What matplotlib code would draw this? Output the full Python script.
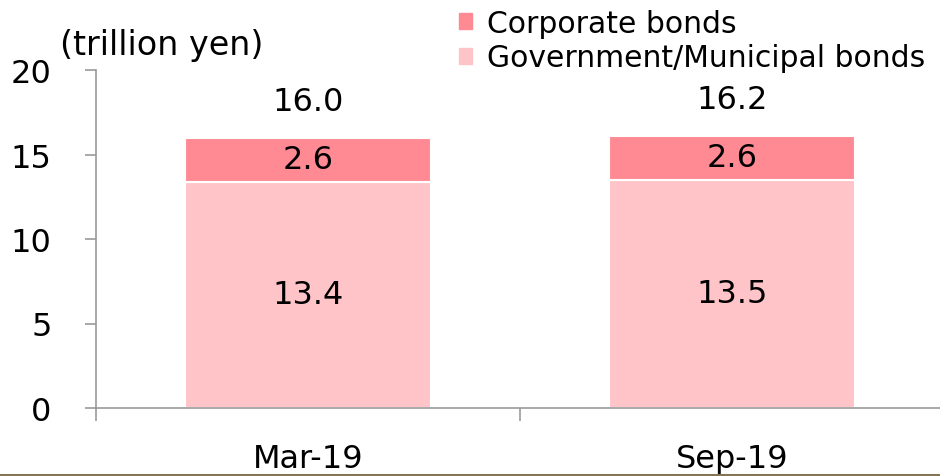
import matplotlib
matplotlib.use("Agg")
import matplotlib.pyplot as plt
from matplotlib.lines import Line2D
from matplotlib.patches import Patch

# data
periods = ["Mar-19", "Sep-19"]
government = [13.4, 13.5]
corporate = [2.6, 2.6]
totals = [16.0, 16.2]

gov_color = "#FFC4C8"
corp_color = "#FF8A93"
fs = 23

plt.rcParams["font.family"] = ["DejaVu Sans"]

fig = plt.figure(figsize=(9.4, 4.77), dpi=100)
ax = fig.add_axes([96 / 940, 68 / 477, 848 / 940, 338 / 477])

x = list(range(len(periods)))
bw = 0.58
ax.bar(x, government, width=bw, color=gov_color, edgecolor="white", linewidth=1.5)
ax.bar(x, corporate, width=bw, bottom=government, color=corp_color,
       edgecolor="white", linewidth=1.5)

for i in x:
    ax.text(i, government[i] / 2, f"{government[i]:.1f}", ha="center", va="center", fontsize=fs)
    ax.text(i, government[i] + corporate[i] / 2, f"{corporate[i]:.1f}",
            ha="center", va="center", fontsize=fs)
    ax.annotate(f"{totals[i]:.1f}", (i, government[i] + corporate[i]),
                xytext=(0, 26), textcoords="offset points",
                ha="center", va="center", fontsize=fs)

ax.set_ylim(0, 20)
ax.set_yticks([0, 5, 10, 15, 20])
ax.set_xlim(-0.5, 1.5)
ax.set_xticks([-0.5, 0.5, 1.5])
ax.set_xticklabels([])
ax.set_xticks(x, minor=True)
ax.set_xticklabels(periods, minor=True, fontsize=fs)
ax.tick_params(axis="x", which="minor", length=0, pad=25)
ax.tick_params(axis="x", which="major", length=9, width=1.2, color="#999999", direction="out")
ax.tick_params(axis="y", length=8, width=1.2, color="#999999", labelsize=fs, pad=24)

for s in ["top", "right"]:
    ax.spines[s].set_visible(False)
for s in ["left", "bottom"]:
    ax.spines[s].set_color("#999999")
    ax.spines[s].set_linewidth(1.2)

fig.text(60 / 940, 1 - 46 / 477, "(trillion yen)", fontsize=24, ha="left", va="center")

handles = [Patch(color=corp_color), Patch(color=gov_color)]
fig.legend(handles, ["Corporate bonds", "Government/Municipal bonds"],
           loc="upper left", bbox_to_anchor=(438 / 940, 1 + 11 / 477),
           frameon=False, fontsize=21.5, handlelength=0.45, handleheight=0.45,
           handletextpad=0.5, labelspacing=0.18, borderpad=0.2)

fig.add_artist(Line2D([0, 1], [1.2 / 477, 1.2 / 477], color="#847654", linewidth=2.2))

fig.savefig("out.png", dpi=100)
